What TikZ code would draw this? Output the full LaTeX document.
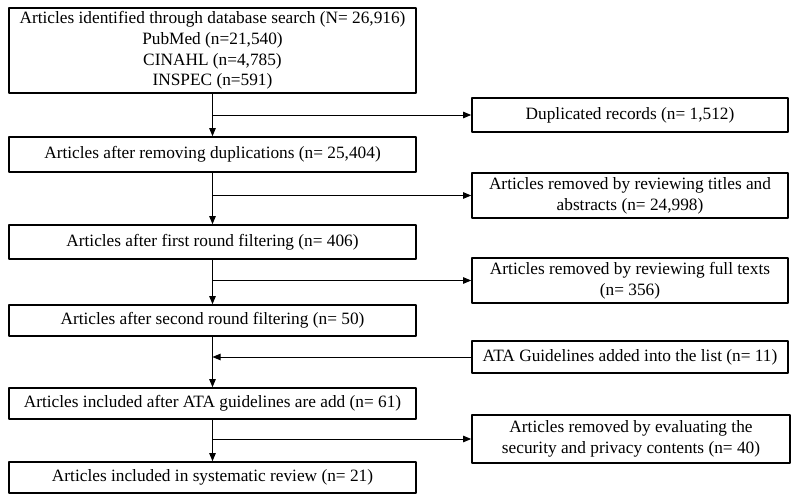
\documentclass[tikz,border=0pt]{standalone}
\usepackage{fontspec}
\setmainfont{Liberation Serif}
\usetikzlibrary{arrows.meta}
\tikzset{
 leftbox/.style={draw,line width=1.7pt,minimum width=407pt,inner sep=0pt,align=center},
 rightbox/.style={draw,line width=1.7pt,minimum width=316pt,inner sep=0pt,align=center},
 flow/.style={line width=0.9pt,-{Triangle[length=8pt,width=6.5pt]}}
}
\begin{document}
\begin{tikzpicture}[x=1pt,y=-1pt,line join=round,font=\fontsize{17.3}{20.7}\selectfont]
 \useasboundingbox (0,0) rectangle (797,502);
 % main column
 \node[leftbox,minimum height=85pt] (ident) at (212.5,50.5)
  {Articles identified through database search (N= 26,916)\\PubMed (n=21,540)\\CINAHL (n=4,785)\\INSPEC (n=591)};
 \node[leftbox,minimum height=35pt] (dedup) at (212.5,154.5) {Articles after removing duplications (n= 25,404)};
 \node[leftbox,minimum height=34pt] (first) at (212.5,242) {Articles after first round filtering (n= 406)};
 \node[leftbox,minimum height=31pt] (second) at (212.5,320.5) {Articles after second round filtering (n= 50)};
 \node[leftbox,minimum height=31pt] (ata) at (212.5,403.5) {Articles included after ATA guidelines are add (n= 61)};
 \node[leftbox,minimum height=31pt] (final) at (212.5,477.5) {Articles included in systematic review (n= 21)};
 % side boxes
 \node[rightbox,minimum height=34pt] (dup) at (630,115) {Duplicated records (n= 1,512)};
 \node[rightbox,minimum height=45pt] (title) at (630,195.5) {Articles removed by reviewing titles and\\abstracts (n= 24,998)};
 \node[rightbox,minimum height=45pt] (full) at (630,280.5) {Articles removed by reviewing full texts\\(n= 356)};
 \node[rightbox,minimum height=32pt] (guide) at (630,357) {ATA Guidelines added into the list (n= 11)};
 \node[rightbox,minimum height=48pt,minimum width=318pt] (sec) at (631,439) {Articles removed by evaluating the\\security and privacy contents (n= 40)};
 % connectors
 \draw[flow] (ident) -- (dedup);
 \draw[flow] (dedup) -- (first);
 \draw[flow] (first) -- (second);
 \draw[flow] (second) -- (ata);
 \draw[flow] (ata) -- (final);
 \coordinate (j1) at (ident.south |- dup.west);
 \coordinate (j2) at (dedup.south |- title.west);
 \coordinate (j3) at (first.south |- full.west);
 \coordinate (j4) at (second.south |- guide.west);
 \coordinate (j5) at (ata.south |- sec.west);
 \draw[flow] (j1) -- (dup);
 \draw[flow] (j2) -- (title);
 \draw[flow] (j3) -- (full);
 \draw[flow] (guide) -- (j4);
 \draw[flow] (j5) -- (sec);
\end{tikzpicture}
\end{document}
